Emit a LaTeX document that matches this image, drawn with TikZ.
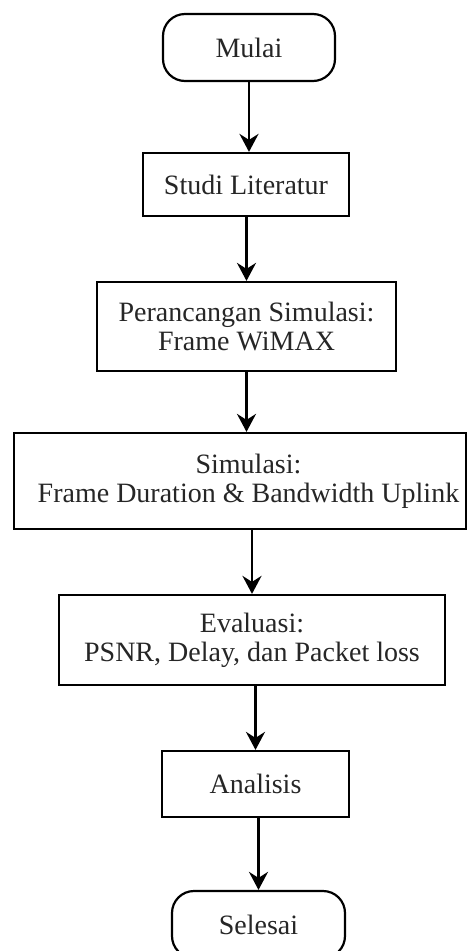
\documentclass[tikz,border=0pt]{standalone}
\usepackage{fontspec}
\setmainfont{Liberation Serif}
\usetikzlibrary{arrows.meta}
\begin{document}
\begin{tikzpicture}[x=1pt,y=-1pt,
  txt/.style={align=center, text=black!85, font=\fontsize{28}{29}\selectfont, inner sep=0pt},
  box/.style={txt, draw=black, line width=2.2pt, fill=white},
  proc/.style={box, rectangle},
  term/.style={box, rectangle, rounded corners=22pt},
  arr/.style={line width=2.7pt, -{Stealth[length=18pt,width=19pt,inset=6pt]}}]
\useasboundingbox (0,0) rectangle (468,951);
\fill[white] (0,0) rectangle (468,951);
\clip (0,0) rectangle (468,951);

\node[term, minimum width=172pt, minimum height=67pt] (mulai) at (249,47.5) {Mulai};
\node[proc, minimum width=206pt, minimum height=63pt] (studi) at (246,184.5) {Studi Literatur};
\node[proc, minimum width=299pt, minimum height=89pt] (rancang) at (246.5,326.5) {Perancangan Simulasi:\\Frame WiMAX};
\node[proc, minimum width=452pt, minimum height=96pt] (simul) at (240,481) {};
\node[txt] (simultxt) at (248.5,481) {Simulasi:\\Frame Duration \& Bandwidth Uplink};
\node[proc, minimum width=386pt, minimum height=90pt] (eval) at (252,640) {Evaluasi:\\PSNR, Delay, dan Packet loss};
\node[proc, minimum width=187pt, minimum height=66pt] (anal) at (255.5,784) {Analisis};
\node[term, minimum width=173pt, minimum height=67pt] (selesai) at (258.5,924.5) {Selesai};

\draw[arr] (mulai.south) -- (mulai.south |- studi.north);
\draw[arr] (studi.south -| rancang.north) -- (rancang.north);
\draw[arr] (rancang.south) -- (rancang.south |- simul.north);
\draw[arr] (simul.south -| eval.north) -- (eval.north);
\draw[arr] (eval.south -| anal.north) -- (anal.north);
\draw[arr] (anal.south -| selesai.north) -- (selesai.north);
\end{tikzpicture}
\end{document}
